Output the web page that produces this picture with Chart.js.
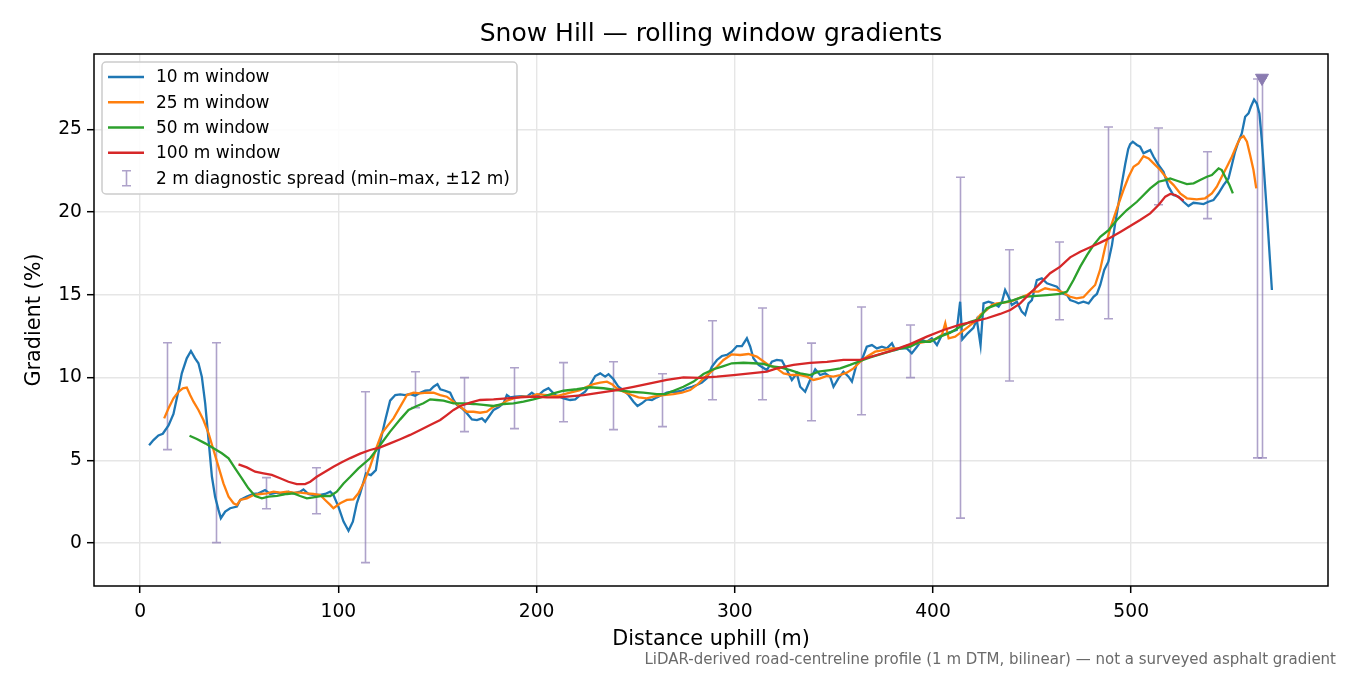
<!DOCTYPE html>
<html><head><meta charset="utf-8">
<script src="https://cdn.jsdelivr.net/npm/chart.js@4.4.0/dist/chart.umd.min.js"></script>
<style>html,body{margin:0;padding:0;background:#fff;}canvas{display:block;}</style>
</head><body>
<canvas id="c" width="1350" height="675"></canvas>
<script>
// ---- data (distance uphill in m, gradient in %) ----
const x10 = [4.5,6.7,9.2,11.4,14.3,16.8,19.3,21,23.5,25.6,27.7,29.4,31.1,32.8,34.5,36.2,37.8,39.5,40.7,42.9,45.4,48.8,50.5,53.8,57.2,59.7,63,65.6,69,72.3,74.8,77.4,80.7,82.4,84.9,87.4,90.8,93.3,95.9,97.5,100,102.6,105.1,107.3,109.3,111,113.9,116.4,118.9,121.1,123.6,126.1,128.7,131.2,133.7,136.2,138.7,141.3,143.8,146.3,148,150,151.4,153.9,156.4,158.1,159.8,162.3,164.8,167.4,169.9,172.4,174.1,175.7,178.3,180.8,183.3,185,186.7,189.2,192.6,195.1,197.6,200.2,203.5,206,209.4,213.6,216.9,219.5,222,224.5,227,229.6,232.1,234.6,236.3,238.8,241.3,243.8,246.4,248.9,250.9,253.1,255.6,258.2,260.7,263.2,265.7,268.3,270.8,273.3,275.8,278.4,280.9,283.4,285.9,288.4,291,293.5,296,298.5,301.1,303.6,306.1,307.8,309.4,312,316.2,318.7,321.2,323.8,326.3,328.8,331.3,333,335.5,338,340.6,343.1,345.6,348.1,349.8,352.3,354.8,357.4,359.1,361.6,364.1,366.6,369.2,371.7,374.2,376.7,379.3,380.9,383.4,386.8,389.3,391.9,394.4,396.9,399.4,402,404.5,407,409.5,412,413.7,414.8,417.5,420.4,422.1,424,425.5,428,430.5,433.1,434.8,436.4,438.1,439.8,442.3,444.8,446.5,448.2,449.9,452.4,454.9,457.5,460,462.5,465,467.6,469.2,471.7,473.4,475.9,478.5,481,482.7,484.4,486.4,488.5,490.3,491.9,493.6,495.3,497,498.5,499.5,500.8,502.9,504.5,506.2,507.9,509.6,511.3,513.8,516.3,518.8,521.3,523.9,526.4,528.9,531.4,534,536.5,539,541.5,544,546.6,549.1,550.8,552.4,554.1,555.8,557.5,559.2,560.4,562,563.4,564.7,565.9,567.1,568.5,569.8,571];
const y10 = [5.9,6.22,6.5,6.6,7.1,7.8,9.2,10.25,11.16,11.6,11.16,10.86,10.05,8.44,6.22,4.0,2.8,2.0,1.5,1.9,2.1,2.2,2.6,2.8,2.96,3.0,3.2,2.96,3.04,2.96,3.1,3.0,3.1,3.24,2.96,2.9,2.9,2.96,3.1,2.9,2.2,1.29,0.74,1.29,2.4,3.0,4.2,4.1,4.4,6.1,7.4,8.6,8.94,8.98,8.94,9.0,8.9,9.08,9.2,9.24,9.44,9.6,9.29,9.2,9.08,8.64,8.34,8.14,7.84,7.47,7.43,7.53,7.33,7.6,8.04,8.2,8.44,8.94,8.8,8.84,8.88,8.84,9.08,8.84,9.2,9.35,8.94,8.74,8.64,8.68,8.94,9.14,9.55,10.09,10.25,10.05,10.2,9.89,9.44,9.24,8.94,8.54,8.28,8.44,8.68,8.64,8.8,8.94,9.08,9.14,9.14,9.2,9.35,9.44,9.55,9.69,9.95,10.65,11.06,11.3,11.36,11.56,11.9,11.9,12.37,11.86,11.16,10.76,10.45,10.95,11.06,11.02,10.45,9.85,10.25,9.44,9.14,9.85,10.5,10.15,10.25,10.05,9.44,9.95,10.35,10.05,9.75,10.86,11.06,11.86,11.96,11.76,11.86,11.76,12.07,11.66,11.76,11.76,11.46,11.86,12.27,12.16,12.37,11.96,12.57,12.67,12.77,12.87,14.58,12.3,12.67,13.0,13.5,11.96,14.48,14.58,14.48,14.28,14.58,15.29,14.88,14.38,14.58,13.98,13.78,14.48,14.68,15.89,15.99,15.69,15.59,15.49,15.09,14.99,14.68,14.58,14.48,14.58,14.48,14.88,15.05,15.59,16.5,17.0,18.0,19.3,20.5,21.73,22.9,23.8,24.1,24.25,24.05,23.95,23.55,23.65,23.75,23.34,22.84,22.43,21.53,21.03,20.93,20.62,20.36,20.56,20.52,20.48,20.62,20.72,21.12,21.63,22.03,22.84,23.64,24.25,24.75,25.76,25.96,26.36,26.8,26.56,25.96,24.35,22.34,19.92,17.5,15.29];

const x25 = [12.1,14.3,16.8,19.3,21.5,23.5,25.2,26.9,29.4,31.9,34.5,37,39.5,42,44.6,47.1,48.8,50.5,53.8,57.2,60.5,63.9,67.3,70.6,74,77.4,80.7,84.1,87.4,90.8,93.3,95.9,97.5,100.9,104.3,107.6,110.1,113,116,119.4,121.9,124.5,127.8,131.2,134.6,137.9,141.3,144.6,148,151.4,154.7,158.1,161.5,164.8,168.2,171.5,174.9,178.3,181.6,185,188.4,192.6,196.8,200.2,205.2,210.2,216.9,222,225.4,228.7,232.1,235.5,238,240.5,243.8,248.1,251.4,255.6,259,264,269.1,273.3,277.5,280.9,284.2,287.6,291,294.3,298.5,302.7,306.9,311.1,317,321.2,324.6,328.8,333,336.4,339.7,343.1,346.5,349.8,353.2,356.5,359.9,363.3,366.6,370.8,375,379.3,383.4,387.6,391.9,396.1,400.3,404.5,406.2,407.9,411.2,414.6,417.9,421.3,424,427.2,429.7,432.2,435.6,439,443.1,447.3,449.9,453.2,456.6,459.1,462.5,465.8,469.2,472.5,475.9,479.3,481.8,484.3,486.9,489.4,492.8,496.1,498.7,501.2,503.7,506.2,508.8,511.3,514.7,518,521.4,524.7,528.1,533.1,537.3,540.7,543.2,545.7,548.3,550.8,553.3,555,556.7,558.4,560,561.7,563.1];
const y25 = [7.53,8.14,8.74,9.14,9.35,9.39,8.94,8.54,8.04,7.43,6.63,5.62,4.61,3.6,2.8,2.4,2.3,2.6,2.7,2.9,2.96,3.0,3.1,3.04,3.1,3.04,3.04,3.0,2.96,2.9,2.6,2.3,2.1,2.4,2.6,2.64,3.0,3.7,4.61,5.82,6.63,7.03,7.53,8.24,8.94,9.08,9.04,9.08,9.08,8.94,8.84,8.54,8.24,7.93,7.93,7.87,7.93,8.24,8.34,8.6,8.74,8.84,8.84,9.0,8.94,8.88,9.08,9.24,9.44,9.6,9.69,9.75,9.6,9.35,9.14,8.94,8.8,8.74,8.84,8.94,9.0,9.08,9.24,9.55,9.95,10.29,10.65,11.06,11.4,11.36,11.42,11.26,10.76,10.55,10.25,10.15,10.15,10.05,9.85,9.95,10.09,10.05,10.15,10.29,10.55,10.95,11.26,11.56,11.66,11.76,11.76,11.96,12.07,12.16,12.27,12.57,13.28,12.37,12.47,12.77,13.07,13.4,13.8,14.08,14.38,14.48,14.52,14.58,14.78,14.98,15.19,15.19,15.39,15.33,15.29,15.12,14.88,14.78,14.85,15.29,15.59,16.5,17.9,19.0,20.2,21.33,22.13,22.74,22.94,23.38,23.24,22.94,22.54,22.03,21.63,21.13,20.83,20.77,20.83,21.13,21.53,22.13,22.74,23.34,24.05,24.45,24.59,24.25,23.44,22.54,21.43];

const x50 = [24.9,28.6,32.8,37,41.2,44.6,47.9,51.3,54.6,58,61.4,64.7,69,74,77.4,80.7,84.1,87.4,91.7,95.9,99.2,102.6,106,110.1,116,121.1,126.1,131.2,135.4,139.6,142.9,146.3,149.7,153,158.1,163.1,168.2,173.2,178.3,183.3,188.4,193.4,198.4,203.5,208.5,213.6,220.3,227,233.8,240.5,247.2,253.9,260.7,264.9,269.1,274.1,279.2,284.2,289.3,294.3,298.5,304.4,309.4,314.5,317.9,323,328,333,338,342.2,348.1,353.2,358.2,363.3,368.3,375,381.8,388.5,393.5,398.6,403.6,408.7,413.7,418.8,423,427.2,433.9,440.6,445.7,450.7,457.5,464.2,467.6,470.9,474.3,477.7,481,484.4,488.6,492.8,497.8,502.9,509.6,513.8,517.2,519.7,523.1,528.1,531.5,534.8,538.2,540.7,544.1,545.7,547.4,549.6,551.3];
const y50 = [6.48,6.28,6.02,5.72,5.42,5.12,4.51,3.91,3.3,2.84,2.7,2.8,2.84,2.96,3.0,2.84,2.7,2.76,2.84,2.84,3.1,3.6,4.0,4.51,5.12,5.92,6.73,7.47,8.04,8.28,8.44,8.68,8.64,8.6,8.44,8.44,8.4,8.34,8.28,8.4,8.44,8.54,8.68,8.84,9.04,9.2,9.29,9.41,9.35,9.24,9.14,9.08,9.0,9.0,9.2,9.44,9.75,10.21,10.5,10.69,10.86,10.89,10.86,10.82,10.69,10.61,10.45,10.25,10.15,10.35,10.45,10.55,10.76,11.0,11.22,11.46,11.7,11.86,12.16,12.16,12.47,12.71,13.07,13.37,13.52,14.18,14.48,14.68,14.88,14.92,14.98,15.05,15.19,15.89,16.7,17.4,18.0,18.5,18.91,19.52,20.12,20.62,21.43,21.83,21.93,22.03,21.89,21.69,21.73,21.93,22.13,22.24,22.64,22.54,22.13,21.63,21.13];

const x100 = [49.6,53.8,58,62.2,66.4,70.6,74.8,79,83.2,85.8,89.1,93.3,97.5,101.7,106,111,116,121.1,126.1,131.2,136.2,141.3,146.3,151.4,154.7,158.1,161.5,166.5,171.5,178.3,185,191.7,198.4,205.2,211,215.3,223.7,232.1,240.5,248.9,257.3,265.7,274.1,282.5,291,299.3,307.8,316.2,321.2,329.6,338,346.5,354.8,363.3,371.7,380.1,388.5,396.9,405.3,413.7,420.4,427.2,433.9,439,444,449,454.1,459.1,464.2,469.2,474.3,479.3,484.4,489.4,494.5,499.5,504.5,509.6,513.8,517.2,519.7,522.3,524.7,526.4];
const y100 = [4.75,4.57,4.31,4.21,4.11,3.91,3.7,3.56,3.56,3.7,4.0,4.31,4.61,4.88,5.13,5.4,5.62,5.78,6.02,6.27,6.53,6.83,7.13,7.43,7.73,8.04,8.28,8.48,8.64,8.68,8.74,8.8,8.84,8.8,8.8,8.84,8.94,9.08,9.24,9.44,9.65,9.85,10.01,9.98,10.05,10.15,10.25,10.35,10.55,10.76,10.89,10.95,11.06,11.06,11.36,11.66,12.02,12.47,12.87,13.2,13.37,13.58,13.84,14.08,14.48,15.09,15.69,16.3,16.7,17.26,17.6,17.87,18.15,18.45,18.8,19.15,19.52,19.92,20.42,20.93,21.09,21.03,20.83,20.68];

// 2 m diagnostic spread (min–max within ±12 m)
const spreadX   = [13.5,38.5,63.5,88.5,113.5,138.5,163.5,188.5,213.5,238.5,263.5,288.5,313.5,338.5,363.5,388.5,413.5,438.5,463.5,488.5,513.5,538.5,563.5,566];
const spreadMin = [5.64,0.02,2.07,1.77,-1.19,8.18,6.73,6.91,7.33,6.85,7.03,8.66,8.66,7.39,7.75,9.99,1.5,9.79,13.49,13.55,20.44,19.6,5.14,5.14];
const spreadMax = [12.1,12.1,3.95,4.55,9.14,10.35,9.99,10.59,10.9,10.95,10.23,13.43,14.2,12.08,14.26,13.17,22.1,17.72,18.19,25.14,25.08,23.64,28.04,28.1];
const clipX = [566];
const clipY = [28.1];

const seriesLabels = ['10 m window','25 m window','50 m window','100 m window'];
const spreadLabel = '2 m diagnostic spread (min\u2013max, \u00b112 m)';
const titleText = 'Snow Hill \u2014 rolling window gradients';
const xTitle = 'Distance uphill (m)';
const yTitle = 'Gradient (%)';
const footText = 'LiDAR-derived road-centreline profile (1 m DTM, bilinear) \u2014 not a surveyed asphalt gradient';

// ---- styles ----
const COLORS = ['#1f77b4','#ff7f0e','#2ca02c','#d62728'];
const SPREAD_COLOR = 'rgba(140,122,180,0.7)';
const CLIP_COLOR = '#8a7bb0';
const FONT = "'DejaVu Sans', sans-serif";

function pts(xs, ys){ return xs.map((v,i)=>({x:v, y:ys[i]})); }

const spreadPlugin = {
  id:'spread',
  beforeDatasetsDraw(chart){
    const ctx = chart.ctx, xs = chart.scales.x, ys = chart.scales.y;
    ctx.save();
    ctx.strokeStyle = SPREAD_COLOR; ctx.lineWidth = 1.6;
    spreadX.forEach((v,i)=>{
      const px = Math.round(xs.getPixelForValue(v))+0.5;
      const a = ys.getPixelForValue(spreadMin[i]), b = ys.getPixelForValue(spreadMax[i]);
      ctx.beginPath();
      ctx.moveTo(px,a); ctx.lineTo(px,b);
      ctx.moveTo(px-4.5,a); ctx.lineTo(px+4.5,a);
      ctx.moveTo(px-4.5,b); ctx.lineTo(px+4.5,b);
      ctx.stroke();
    });
    ctx.restore();
  }
};

const decoPlugin = {
  id:'deco',
  afterDraw(chart){
    const ctx = chart.ctx, ca = chart.chartArea;
    ctx.save();
    // frame
    ctx.strokeStyle = '#000'; ctx.lineWidth = 1.5;
    ctx.strokeRect(ca.left, ca.top, ca.right-ca.left, ca.bottom-ca.top);
    // title
    ctx.fillStyle = '#000'; ctx.textAlign = 'center'; ctx.textBaseline = 'middle';
    ctx.font = '25px ' + FONT;
    ctx.fillText(titleText, (ca.left+ca.right)/2, 34);
    ctx.font = '20.8px ' + FONT;
    ctx.fillText(xTitle, (ca.left+ca.right)/2, 640);
    ctx.save();
    ctx.translate(35, (ca.top+ca.bottom)/2); ctx.rotate(-Math.PI/2);
    ctx.fillText(yTitle, 0, 0);
    ctx.restore();
    // footer
    ctx.fillStyle = '#6a6a6a'; ctx.textAlign = 'right'; ctx.font = '15px ' + FONT;
    ctx.fillText(footText, 1336, 660);
    // legend
    const lx = 102, ly = 62, lw = 415, lh = 132;
    ctx.beginPath();
    if (ctx.roundRect) ctx.roundRect(lx, ly, lw, lh, 4); else ctx.rect(lx, ly, lw, lh);
    ctx.fillStyle = 'rgba(255,255,255,0.85)'; ctx.fill();
    ctx.strokeStyle = '#cccccc'; ctx.lineWidth = 1.5; ctx.stroke();
    ctx.font = '17px ' + FONT; ctx.textAlign = 'left'; ctx.textBaseline = 'middle';
    const rows = [77, 102.3, 127.5, 152.8, 178.2];
    seriesLabels.forEach((t,i)=>{
      ctx.strokeStyle = COLORS[i]; ctx.lineWidth = 2.5;
      ctx.beginPath(); ctx.moveTo(108, rows[i]); ctx.lineTo(144, rows[i]); ctx.stroke();
      ctx.fillStyle = '#000'; ctx.fillText(t, 156, rows[i]+1);
    });
    const ey = rows[4];
    ctx.strokeStyle = SPREAD_COLOR; ctx.lineWidth = 1.6;
    ctx.beginPath();
    ctx.moveTo(126.5, ey-7.5); ctx.lineTo(126.5, ey+7.5);
    ctx.moveTo(122, ey-7.5); ctx.lineTo(131, ey-7.5);
    ctx.moveTo(122, ey+7.5); ctx.lineTo(131, ey+7.5);
    ctx.stroke();
    ctx.fillStyle = '#000'; ctx.fillText(spreadLabel, 156, ey+1);
    ctx.restore();
  }
};

const lineDs = (xs, ys, i, order) => ({
  label: seriesLabels[i], data: pts(xs, ys), borderColor: COLORS[i], backgroundColor: COLORS[i],
  borderWidth: 2.3, pointRadius: 0, tension: 0, fill: false, order: order
});

new Chart(document.getElementById('c'), {
  type: 'line',
  data: { datasets: [
    lineDs(x10, y10, 0, 5),
    lineDs(x25, y25, 1, 4),
    lineDs(x50, y50, 2, 3),
    lineDs(x100, y100, 3, 2),
    { label: 'clipped max', data: pts(clipX, clipY), showLine: false, pointStyle: 'triangle',
      rotation: 180, pointRadius: 7.5, pointBackgroundColor: CLIP_COLOR, pointBorderColor: CLIP_COLOR,
      borderColor: CLIP_COLOR, backgroundColor: CLIP_COLOR, order: 1 }
  ]},
  options: {
    responsive: false, animation: false, devicePixelRatio: 1,
    layout: { padding: { left: 0, right: 22, top: 54, bottom: 0 } },
    plugins: { legend: { display: false }, title: { display: false }, tooltip: { enabled: false } },
    scales: {
      x: { type: 'linear', min: -23.3, max: 599.3,
        afterFit: s => { s.height = 89; },
        ticks: { stepSize: 100, includeBounds: false, color: '#000', font: { family: FONT, size: 18.7 }, padding: 8, maxRotation: 0 },
        grid: { color: '#e6e6e6', lineWidth: 1.4, tickColor: '#000', tickLength: 7, tickWidth: 1.5 },
        border: { display: false } },
      y: { type: 'linear', min: -2.6, max: 29.55,
        afterFit: s => { s.width = 94; },
        ticks: { stepSize: 5, includeBounds: false, color: '#000', font: { family: FONT, size: 18.7 }, padding: 5 },
        grid: { color: '#e6e6e6', lineWidth: 1.4, tickColor: '#000', tickLength: 7, tickWidth: 1.5 },
        border: { display: false } }
    }
  },
  plugins: [spreadPlugin, decoPlugin]
});
</script>
</body></html>
